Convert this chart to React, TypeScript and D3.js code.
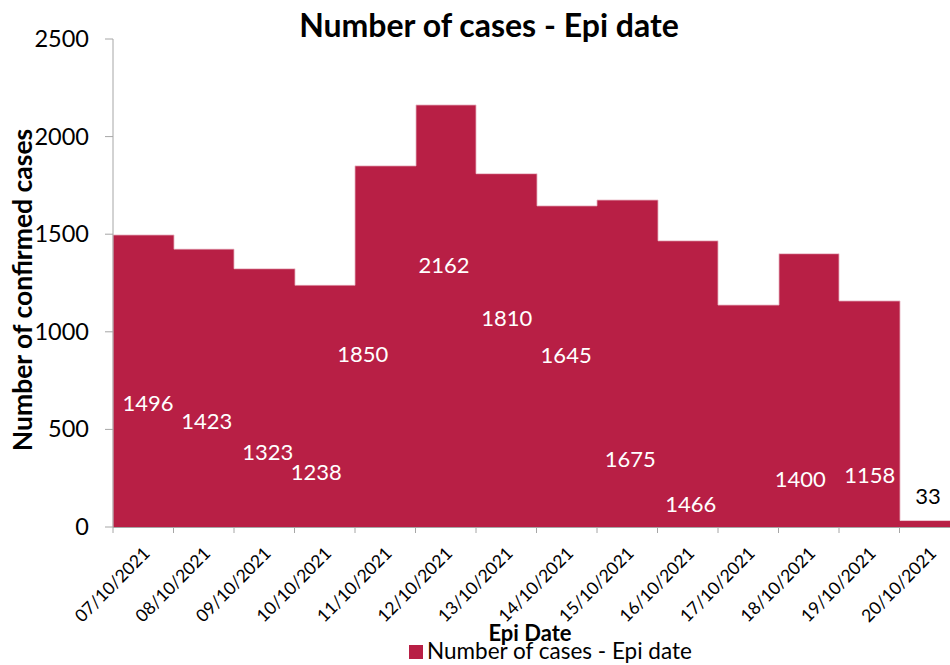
import React from "react";
import * as d3 from "d3";

const categories = [
  "07/10/2021", "08/10/2021", "09/10/2021", "10/10/2021", "11/10/2021",
  "12/10/2021", "13/10/2021", "14/10/2021", "15/10/2021", "16/10/2021",
  "17/10/2021", "18/10/2021", "19/10/2021", "20/10/2021",
];
const cases = [1496, 1423, 1323, 1238, 1850, 2162, 1810, 1645, 1675, 1466, 1137, 1400, 1158, 33];
// which bars carry a data label (the 17/10 bar has none in the reference)
const showLabel = [true, true, true, true, true, true, true, true, true, true, false, true, true, true];
// label anchor height (data units) and horizontal position within band (fraction)
const labelAt = [635, 543, 384, 282, 886, 1342, 1071, 881, 348, 118, 0, 246, 266, 159];
const labelPos = [0.58, 0.55, 0.56, 0.36, 0.13, 0.47, 0.51, 0.49, 0.55, 0.55, 0.5, 0.36, 0.51, 0.47];
const yTicks = [0, 500, 1000, 1500, 2000, 2500];

const W = 950;
const H = 665;
const FONT = "Lato, 'Open Sans', sans-serif";
const BAR = "#B81F45";

export default function App() {
  const x = d3.scaleBand<string>().domain(categories).range([113, 960]).padding(0);
  const y = d3.scaleLinear().domain([0, 2500]).range([527, 39]);
  const bw = x.bandwidth();
  const bx = (c: string) => Math.round(x(c)!);
  const bx2 = (c: string) => Math.round(x(c)! + bw);

  // outline of the stepped bar silhouette
  const pts: [number, number][] = [[bx(categories[0]), y(0)]];
  categories.forEach((c, i) => {
    pts.push([bx(c), y(cases[i])]);
    pts.push([bx2(c), y(cases[i])]);
  });
  pts.push([bx2(categories[categories.length - 1]), y(0)]);
  const outline = d3.line()(pts) || "";

  return (
    <svg
      width={W}
      height={H}
      style={{ position: "absolute", left: 0, top: 0, display: "block", background: "#fff" }}
      fontFamily={FONT}
    >
      <defs>
        <clipPath id="clip">
          <rect x={0} y={0} width={W} height={H} />
        </clipPath>
      </defs>
      {/* title */}
      <text x={489} y={37} textAnchor="middle" fontSize={32} fontWeight="bold" fill="#000">
        Number of cases - Epi date
      </text>

      {/* bars */}
      <g clipPath="url(#clip)">
        {categories.map((c, i) => (
          <rect
            key={c}
            x={bx(c)}
            y={y(cases[i])}
            width={bx2(c) - bx(c)}
            height={y(0) - y(cases[i])}
            fill={BAR}
            shapeRendering="crispEdges"
          />
        ))}
        <path d={outline} fill="none" stroke="#e7b3c0" strokeWidth={0.8} />
      </g>

      {/* y axis */}
      <line x1={113} x2={113} y1={39} y2={527} stroke="#A6A6A6" strokeWidth={1} />
      {yTicks.map((t) => (
        <g key={t}>
          <line x1={105} x2={113} y1={y(t)} y2={y(t)} stroke="#A6A6A6" strokeWidth={1} />
          <text x={89} y={y(t) + 8} textAnchor="end" fontSize={23.5} fill="#000">
            {t}
          </text>
        </g>
      ))}

      {/* x axis */}
      <line x1={113} x2={W} y1={527.5} y2={527.5} stroke="#A6A6A6" strokeWidth={1} />
      {categories.map((c) => (
        <line key={"t" + c} x1={x(c)!} x2={x(c)!} y1={527} y2={533} stroke="#A6A6A6" strokeWidth={1} />
      ))}
      {categories.map((c) => {
        const cx = x(c)! + bw / 2 - 1;
        const cy = 546;
        return (
          <text
            key={"l" + c}
            x={cx}
            y={cy}
            textAnchor="end"
            fontSize={17.5}
            fill="#000"
            transform={`rotate(-45 ${cx} ${cy})`}
            dy="0.7em"
          >
            {c}
          </text>
        );
      })}

      {/* data labels */}
      {categories.map((c, i) =>
        showLabel[i] ? (
          <text
            key={"d" + c}
            x={x(c)! + bw * labelPos[i]}
            y={y(labelAt[i])}
            dy="0.35em"
            textAnchor="middle"
            fontSize={22}
            fill={i === categories.length - 1 ? "#000" : "#fff"}
          >
            {cases[i]}
          </text>
        ) : null
      )}

      {/* axis titles */}
      <text
        transform={`translate(32 290) rotate(-90)`}
        textAnchor="middle"
        fontSize={26.5}
        fontWeight="bold"
        fill="#000"
      >
        Number of confirmed cases
      </text>
      <text x={530} y={641} textAnchor="middle" fontSize={22} fontWeight="bold" fill="#000">
        Epi Date
      </text>

      {/* legend */}
      <rect x={409} y={645} width={14} height={14} fill={BAR} />
      <text x={427} y={659} fontSize={22.5} fill="#000">
        Number of cases - Epi date
      </text>
    </svg>
  );
}
